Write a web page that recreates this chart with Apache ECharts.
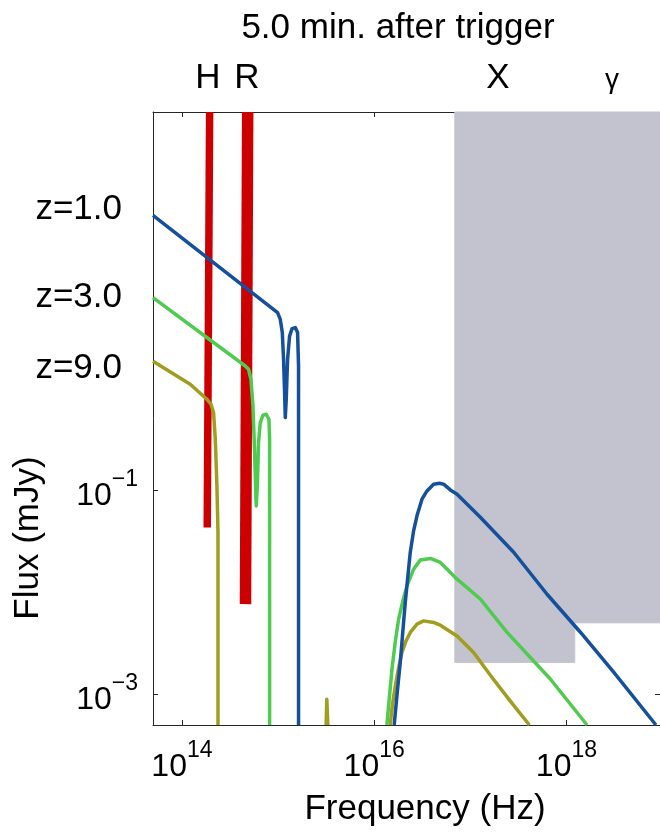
<!DOCTYPE html>
<html>
<head>
<meta charset="utf-8">
<script src="https://cdn.jsdelivr.net/npm/echarts@6/dist/echarts.min.js"></script>
<style>
  html, body { margin: 0; padding: 0; background: #fff; }
  #chart { width: 660px; height: 833px; }
</style>
</head>
<body>
<div id="chart"></div>
<script>
  // all curve points are [log10(frequency / Hz), log10(flux / mJy)]
  // -3.301 is the bottom of the plot (5e-4 mJy), where the curves leave it
  const z1Optical = [[13.699, 1.688], [14.995, 0.736], [15.023, 0.670], [15.044, 0.540], [15.057, 0.279],
    [15.068, -0.047], [15.075, -0.292], [15.085, -0.113], [15.099, 0.279], [15.120, 0.507], [15.145, 0.579],
    [15.179, 0.589], [15.203, 0.540], [15.213, 0.213], [15.213, -3.301]];
  const z1Xray = [[16.208, -3.301], [16.240, -2.980], [16.271, -2.689], [16.323, -2.102], [16.375, -1.613],
    [16.410, -1.400], [16.445, -1.254], [16.497, -1.091], [16.549, -1.010], [16.618, -0.944], [16.680, -0.935],
    [16.722, -0.944], [16.792, -1.000], [16.862, -1.042], [17.104, -1.267], [17.451, -1.610], [17.798, -2.021],
    [18.145, -2.393], [18.491, -2.784], [18.931, -3.301]];

  const z3Optical = [[13.699, 0.883], [14.659, 0.213], [14.693, 0.181], [14.718, 0.083], [14.739, -0.178],
    [14.755, -0.602], [14.770, -1.091], [14.773, -1.157], [14.784, -0.961], [14.797, -0.536], [14.815, -0.341],
    [14.843, -0.269], [14.877, -0.259], [14.905, -0.308], [14.912, -0.504], [14.912, -3.301]];
  const z3Xray = [[16.132, -3.301], [16.160, -3.010], [16.185, -2.754], [16.220, -2.480], [16.254, -2.265],
    [16.300, -2.080], [16.341, -1.939], [16.410, -1.776], [16.480, -1.685], [16.584, -1.671], [16.688, -1.710],
    [16.862, -1.874], [17.104, -2.068], [17.382, -2.395], [17.832, -2.851], [18.214, -3.301]];

  const z9Optical = [[13.699, 0.259], [14.086, 0.034], [14.260, -0.113], [14.302, -0.161], [14.329, -0.243],
    [14.347, -0.504], [14.364, -0.961], [14.375, -1.417], [14.375, -3.301]];
  const z9Spike = [[15.500, -3.301], [15.507, -3.05], [15.511, -3.05], [15.518, -3.301]];
  const z9Xray = [[16.166, -3.301], [16.190, -3.100], [16.220, -2.918], [16.250, -2.760], [16.289, -2.591],
    [16.330, -2.480], [16.376, -2.395], [16.445, -2.314], [16.514, -2.282], [16.618, -2.297], [16.688, -2.324],
    [16.862, -2.429], [17.034, -2.591], [17.226, -2.836], [17.416, -3.068], [17.614, -3.301]];

  // photometric limits in H and R, from the top of the plot down to the limit
  const hBand = [[14.288, 2.699], [14.263, -1.368]];
  const rBand = [[14.684, 2.699], [14.661, -2.118]];

  // detector sensitivity regions [nuFrom, nuTo, fluxLimit]
  const xrayLimit = [6.9e16, 1.22e18, 2.05e-3];
  const gammaLimit = [1.22e18, 9.4e18, 5.0e-3];

  const nuMin = 5e13, nuMax = 9.4e18;
  const fluxMin = 5e-4, fluxMax = 500;
  const xTicks = [1e14, 1e16, 1e18];
  const yTicks = [1e-3, 1e-1];

  const FONT = '"Liberation Sans", Arial, Helvetica, sans-serif';
  const toLin = pts => pts.map(p => [Math.pow(10, p[0]), Math.pow(10, p[1])]);
  const expLabel = v => {
    const e = Math.round(Math.log10(v));
    return '{b|10}{s|' + (e < 0 ? '\u2212' + (-e) : e) + '}';
  };

  const chart = echarts.init(document.getElementById('chart'), null, { renderer: 'canvas' });

  const curve = (name, color, pts) => ({
    name: name,
    type: 'line',
    data: toLin(pts),
    showSymbol: false,
    symbol: 'none',
    clip: true,
    lineStyle: { color: color, width: 3.5, join: 'round' },
    z: 4,
  });
  const bar = (pts, width) => ({
    type: 'line',
    data: toLin(pts),
    showSymbol: false,
    symbol: 'none',
    clip: true,
    lineStyle: { color: '#cc0000', width: width, cap: 'butt' },
    z: 3,
  });

  const labelRich = {
    b: { fontSize: 32, fontFamily: FONT, color: '#000', padding: [12, 0, 0, 0] },
    s: { fontSize: 23, fontFamily: FONT, color: '#000', verticalAlign: 'top' },
  };
  const xAxisBase = {
    type: 'log',
    logBase: 10,
    min: nuMin,
    max: nuMax,
    axisLine: { onZero: false, lineStyle: { color: '#262626', width: 1 } },
    axisTick: { inside: true, length: 5, customValues: xTicks, lineStyle: { color: '#262626' } },
    splitLine: { show: false },
    minorTick: { show: false },
  };
  const yAxisBase = {
    type: 'log',
    logBase: 10,
    min: fluxMin,
    max: fluxMax,
    axisLine: { onZero: false, lineStyle: { color: '#262626', width: 1 } },
    axisTick: { inside: true, length: 5, customValues: yTicks, lineStyle: { color: '#262626' } },
    splitLine: { show: false },
    minorTick: { show: false },
  };

  const option = {
    animation: false,
    backgroundColor: '#fff',
    grid: { left: 153, top: 112, width: 507, height: 613, containLabel: false },
    xAxis: [
      Object.assign({}, xAxisBase, {
        position: 'bottom',
        axisLabel: { customValues: xTicks, formatter: expLabel, rich: labelRich, margin: 14 },
      }),
      Object.assign({}, xAxisBase, { position: 'top', axisLabel: { show: false } }),
    ],
    yAxis: [
      Object.assign({}, yAxisBase, {
        position: 'left',
        axisLabel: { customValues: yTicks, formatter: expLabel, rich: labelRich, margin: 15 },
      }),
      Object.assign({}, yAxisBase, { position: 'right', axisLabel: { show: false } }),
    ],
    graphic: [
      { type: 'text', x: 398, y: 28, style: { text: '5.0 min. after trigger', font: '35px ' + FONT, fill: '#000', align: 'center', verticalAlign: 'middle' } },
      { type: 'text', x: 208, y: 78, style: { text: 'H', font: '35px ' + FONT, fill: '#000', align: 'center', verticalAlign: 'middle' } },
      { type: 'text', x: 247, y: 78, style: { text: 'R', font: '35px ' + FONT, fill: '#000', align: 'center', verticalAlign: 'middle' } },
      { type: 'text', x: 498, y: 78, style: { text: 'X', font: '35px ' + FONT, fill: '#000', align: 'center', verticalAlign: 'middle' } },
      { type: 'text', x: 612, y: 80, style: { text: 'γ', font: '28px ' + FONT, fill: '#000', align: 'center', verticalAlign: 'middle' } },
      { type: 'text', x: 122, y: 209, style: { text: 'z=1.0', font: '35px ' + FONT, fill: '#000', align: 'right', verticalAlign: 'middle' } },
      { type: 'text', x: 122, y: 297, style: { text: 'z=3.0', font: '35px ' + FONT, fill: '#000', align: 'right', verticalAlign: 'middle' } },
      { type: 'text', x: 122, y: 368, style: { text: 'z=9.0', font: '35px ' + FONT, fill: '#000', align: 'right', verticalAlign: 'middle' } },
      { type: 'text', x: 425, y: 809, style: { text: 'Frequency (Hz)', font: '35px ' + FONT, fill: '#000', align: 'center', verticalAlign: 'middle' } },
      { type: 'text', x: 28, y: 538, rotation: Math.PI / 2, style: { text: 'Flux (mJy)', font: '35px ' + FONT, fill: '#000', align: 'center', verticalAlign: 'middle' } },
    ],
    series: [
      {
        type: 'line',
        data: [],
        silent: true,
        z: 1,
        markArea: {
          silent: true,
          itemStyle: { color: '#c2c3ce', borderColor: '#c2c3ce', borderWidth: 1 },
          data: [
            [{ coord: [xrayLimit[0], fluxMax] }, { coord: [xrayLimit[1], xrayLimit[2]] }],
            [{ coord: [gammaLimit[0], fluxMax] }, { coord: [gammaLimit[1], gammaLimit[2]] }],
          ],
        },
      },
      bar(hBand, 7.5),
      bar(rBand, 11.5),
      curve('z=9.0', '#a09d1f', z9Optical),
      curve('z=9.0', '#a09d1f', z9Spike),
      curve('z=9.0', '#a09d1f', z9Xray),
      curve('z=3.0', '#4fcb4f', z3Optical),
      curve('z=3.0', '#4fcb4f', z3Xray),
      curve('z=1.0', '#14509c', z1Optical),
      curve('z=1.0', '#14509c', z1Xray),
    ],
  };

  chart.setOption(option);
  window.addEventListener('resize', () => chart.resize());
</script>
</body>
</html>
